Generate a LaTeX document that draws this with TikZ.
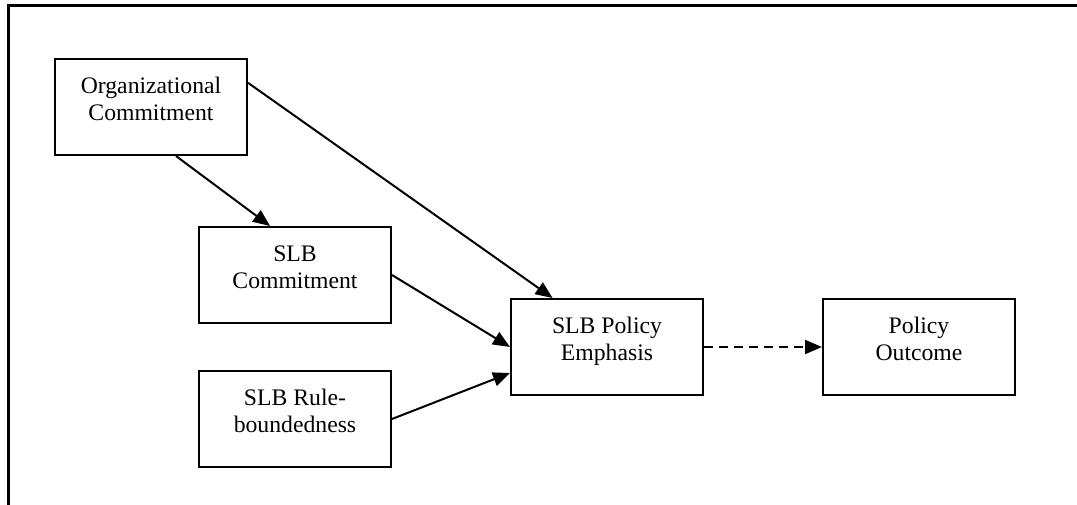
\documentclass[tikz,border=0pt]{standalone}
\usepackage{fontspec}
\setmainfont{Liberation Serif}
\usetikzlibrary{arrows.meta}
\newcommand{\boxtext}[1]{\parbox[c][59pt][t]{192pt}{\centering #1}}
\begin{document}
\begin{tikzpicture}[x=1pt,y=-1pt,line width=2pt,
  box/.style={draw,inner xsep=0pt,inner ysep=18.5pt,font=\fontsize{23.7}{27}\selectfont},
  >={Triangle[length=17pt,width=14pt]}]
\useasboundingbox (0,0) rectangle (1077,505);
\draw[line width=3pt] (8,505)--(8,6)--(1077,6);
\node[box] (org) at (151,107) {\boxtext{Organizational\\Commitment}};
\node[box] (slbc) at (295,275) {\boxtext{SLB\\Commitment}};
\node[box] (rule) at (295,419) {\boxtext{SLB Rule-\\boundedness}};
\node[box] (pe) at (607,347) {\boxtext{SLB Policy\\Emphasis}};
\node[box] (po) at (919,347) {\boxtext{Policy\\Outcome}};
\draw[->] (org.-63)--(slbc.117);
\draw[->] (org.14)--(pe.138);
\draw[->] (slbc.east)--(pe.west);
\draw[->] (rule.east)--(pe.-165);
\draw[->,dashed,dash pattern=on 9pt off 6pt] (pe.east)--(po.west);
\end{tikzpicture}
\end{document}
